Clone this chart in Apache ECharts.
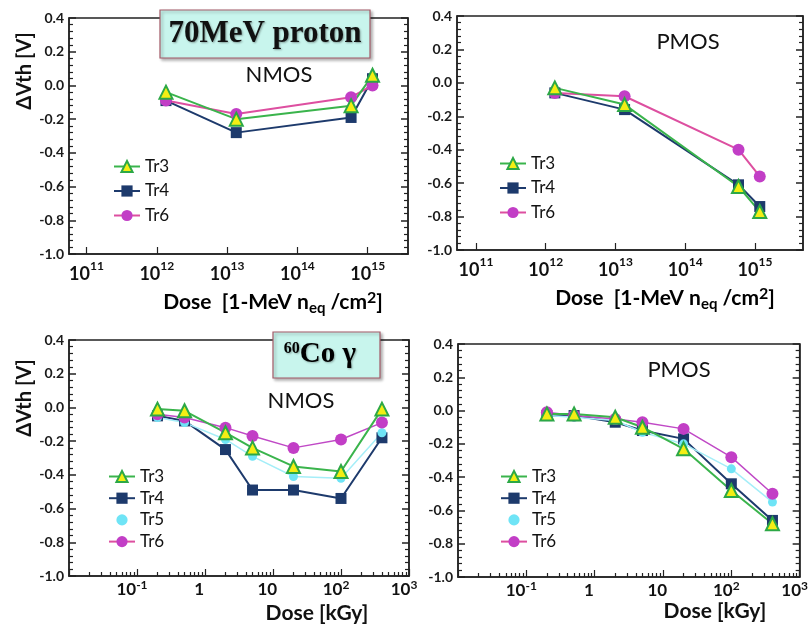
<!DOCTYPE html>
<html>
<head>
<meta charset="utf-8">
<script src="https://cdn.jsdelivr.net/npm/echarts@6/dist/echarts.min.js"></script>
<style>
  html, body { margin: 0; padding: 0; background: #ffffff; }
  #chart { width: 811px; height: 628px; }
</style>
</head>
<body>
<div id="chart"></div>
<script>
// Irradiation steps
const protonFluence = [1.35e12, 1.35e13, 5.8e14, 1.17e15];   // 1-MeV neq/cm2
const gammaDose = [0.2, 0.5, 2, 5, 20, 100, 400];            // kGy

// Threshold voltage shift [V], 70 MeV proton, NMOS
const nmosProtonTr3 = [-0.04, -0.20, -0.12, 0.06];
const nmosProtonTr4 = [-0.09, -0.28, -0.19, 0.04];
const nmosProtonTr6 = [-0.09, -0.17, -0.07, 0.00];

// Threshold voltage shift [V], 70 MeV proton, PMOS
const pmosProtonTr3 = [-0.03, -0.13, -0.62, -0.77];
const pmosProtonTr4 = [-0.06, -0.16, -0.61, -0.74];
const pmosProtonTr6 = [-0.06, -0.08, -0.40, -0.56];

// Threshold voltage shift [V], 60Co gamma, NMOS
const nmosGammaTr3 = [-0.01, -0.02, -0.15, -0.24, -0.35, -0.38, -0.01];
const nmosGammaTr4 = [-0.05, -0.08, -0.25, -0.49, -0.49, -0.54, -0.18];
const nmosGammaTr5 = [-0.06, -0.09, -0.19, -0.29, -0.41, -0.42, -0.15];
const nmosGammaTr6 = [-0.04, -0.06, -0.12, -0.17, -0.24, -0.19, -0.09];

// Threshold voltage shift [V], 60Co gamma, PMOS
const pmosGammaTr3 = [-0.02, -0.02, -0.04, -0.10, -0.23, -0.48, -0.68];
const pmosGammaTr4 = [-0.03, -0.03, -0.07, -0.12, -0.17, -0.44, -0.66];
const pmosGammaTr5 = [-0.03, -0.04, -0.06, -0.13, -0.20, -0.35, -0.55];
const pmosGammaTr6 = [-0.01, -0.03, -0.05, -0.07, -0.11, -0.28, -0.50];

// Vertical scale shared by all panels
const vthMin = -1.0;
const vthMax = 0.4;
const vthStep = 0.2;

const INK = '#222222';
const SANS = 'Lato';

const grids = [
  { left: 69,  top: 18,  width: 339, height: 236 },
  { left: 457, top: 16,  width: 346, height: 234 },
  { left: 69,  top: 340, width: 340, height: 236 },
  { left: 458, top: 344, width: 344, height: 233 }
].map(g => Object.assign({ show: true, borderColor: INK, borderWidth: 1.5 }, g));

function vthAxis(gi, side) {
  return {
    type: 'value', gridIndex: gi, position: side,
    min: vthMin, max: vthMax, interval: vthStep,
    axisLine: { show: true, onZero: false, lineStyle: { color: INK, width: 1.5 } },
    axisTick: { show: true, inside: true, length: 7, lineStyle: { color: INK, width: 1.5 } },
    minorTick: { show: true, splitNumber: 5, length: 4, lineStyle: { color: INK, width: 1.2 } },
    splitLine: { show: false },
    axisLabel: {
      show: side === 'left', margin: 5, fontFamily: SANS, fontWeight: 'bold',
      fontSize: 14, color: '#1a1a1a', formatter: v => v.toFixed(1)
    }
  };
}

function powerLabelRich(fs, ss, raise) {
  return {
    b: { fontFamily: SANS, fontWeight: 'bold', fontSize: fs, color: '#111' },
    s: { fontFamily: SANS, fontWeight: 'bold', fontSize: ss, color: '#111', padding: [0, 0, raise, 0] }
  };
}

function fluenceAxis(gi, lo, hi) {
  return {
    type: 'log', logBase: 10, gridIndex: gi,
    min: Math.pow(10, lo), max: Math.pow(10, hi),
    axisLine: { show: true, onZero: false, lineStyle: { color: INK, width: 1.5 } },
    axisTick: { show: true, inside: true, length: 7, lineStyle: { color: INK, width: 1.2 } },
    minorTick: { show: false },
    splitLine: { show: false },
    axisLabel: {
      showMinLabel: false, showMaxLabel: false, margin: 6,
      formatter: v => '{b|10}{s|' + Math.round(Math.log10(v)) + '}',
      rich: powerLabelRich(18, 12, 16)
    }
  };
}

function doseAxis(gi) {
  return {
    type: 'log', logBase: 10, gridIndex: gi, min: 0.01, max: 1000,
    axisLine: { show: true, onZero: false, lineStyle: { color: INK, width: 1.5 } },
    axisTick: { show: true, inside: true, length: 7, lineStyle: { color: INK, width: 1.2 } },
    minorTick: { show: true, splitNumber: 9, length: 4, lineStyle: { color: INK, width: 1.2 } },
    splitLine: { show: false },
    axisLabel: {
      showMinLabel: false, showMaxLabel: true, margin: 3, padding: [0, 10, 0, 0],
      formatter: v => {
        const e = Math.round(Math.log10(v));
        if (e === 0) return '{b|1}{s|\u2009}';
        if (e === 1) return '{b|10}{s|\u2009}';
        return '{b|10}{s|' + e + '}';
      },
      rich: powerLabelRich(17, 12, 10)
    }
  };
}

const xAxes = [
  fluenceAxis(0, 10.751, 15.573),
  fluenceAxis(1, 10.728, 15.688),
  doseAxis(2),
  doseAxis(3)
];
const yAxes = [];
for (let gi = 0; gi < 4; gi++) {
  yAxes.push(vthAxis(gi, 'left'));
  yAxes.push(vthAxis(gi, 'right'));
}

const traceStyle = {
  Tr3: {
    symbol: 'triangle', symbolSize: 13,
    itemStyle: { color: '#f3ee14', borderColor: '#2ca846', borderWidth: 2 },
    lineStyle: { color: '#3ab44c', width: 2 }
  },
  Tr4: {
    symbol: 'rect', symbolSize: 11,
    itemStyle: { color: '#1d3a6c' },
    lineStyle: { color: '#1d3a6c', width: 2 }
  },
  Tr5: {
    symbol: 'circle', symbolSize: 9,
    itemStyle: { color: '#6fe4f6' },
    lineStyle: { color: '#a5eef8', width: 1.5 }
  },
  Tr6: {
    symbol: 'circle', symbolSize: 12,
    itemStyle: { color: '#c23ec6' },
    lineStyle: { color: '#dd4fa0', width: 2 }
  }
};

function trace(name, gi, xs, ys, lineOverride) {
  const st = traceStyle[name];
  return {
    type: 'line', name: name, xAxisIndex: gi, yAxisIndex: gi * 2,
    data: xs.map((x, i) => [x, ys[i]]),
    symbol: st.symbol, symbolSize: st.symbolSize,
    itemStyle: st.itemStyle,
    lineStyle: Object.assign({}, st.lineStyle, lineOverride || {}),
    showSymbol: true, animation: false, silent: true
  };
}

const gammaTr6Line = { color: '#c049c6', width: 1.5 };

const series = [
  trace('Tr4', 0, protonFluence, nmosProtonTr4),
  trace('Tr6', 0, protonFluence, nmosProtonTr6),
  trace('Tr3', 0, protonFluence, nmosProtonTr3),

  trace('Tr4', 1, protonFluence, pmosProtonTr4),
  trace('Tr6', 1, protonFluence, pmosProtonTr6),
  trace('Tr3', 1, protonFluence, pmosProtonTr3),

  trace('Tr4', 2, gammaDose, nmosGammaTr4),
  trace('Tr5', 2, gammaDose, nmosGammaTr5),
  trace('Tr6', 2, gammaDose, nmosGammaTr6, gammaTr6Line),
  trace('Tr3', 2, gammaDose, nmosGammaTr3),

  trace('Tr4', 3, gammaDose, pmosGammaTr4),
  trace('Tr5', 3, gammaDose, pmosGammaTr5),
  trace('Tr6', 3, gammaDose, pmosGammaTr6, gammaTr6Line),
  trace('Tr3', 3, gammaDose, pmosGammaTr3)
];

function legendBox(left, top, names, gap) {
  return {
    orient: 'vertical', left: left, top: top, itemGap: gap,
    itemWidth: 26, itemHeight: 14, selectedMode: false,
    textStyle: { fontFamily: SANS, fontSize: 17, color: '#111' },
    data: names.map(n => n === 'Tr5' ? { name: n, lineStyle: { width: 0, opacity: 0 } } : n)
  };
}

const legends = [
  legendBox(108, 153, ['Tr3', 'Tr4', 'Tr6'], 7.5),
  legendBox(494, 150, ['Tr3', 'Tr4', 'Tr6'], 7.5),
  legendBox(103, 463, ['Tr3', 'Tr4', 'Tr5', 'Tr6'], 4.7),
  legendBox(495, 463, ['Tr3', 'Tr4', 'Tr5', 'Tr6'], 4.7)
];

function plainText(x, y, text, size, weight, extra) {
  return Object.assign({
    type: 'text', x: x, y: y, z: 50,
    style: {
      text: text, fill: '#111', align: 'center', verticalAlign: 'middle',
      fontFamily: SANS, fontSize: size, fontWeight: weight
    }
  }, extra || {});
}

const doseTitleRich = {
  a: { fontFamily: SANS, fontWeight: 'bold', fontSize: 21, color: '#111' },
  sub: { fontFamily: SANS, fontWeight: 'bold', fontSize: 15, color: '#111', padding: [12, 0, 0, 0] },
  sup: { fontFamily: SANS, fontWeight: 'bold', fontSize: 16, color: '#111', padding: [0, 0, 8, 0] }
};
function fluenceTitle(x, y) {
  return {
    type: 'text', x: x, y: y, z: 50,
    style: {
      text: '{a|Dose  [1-MeV n}{sub|eq}{a| /cm}{sup|2}{a|]}',
      rich: doseTitleRich, align: 'center', verticalAlign: 'middle'
    }
  };
}

function tagBox(x, y, w, h) {
  return {
    type: 'rect', z: 60,
    shape: { x: x, y: y, width: w, height: h },
    style: {
      fill: '#c8f5ed', stroke: '#a45a68', lineWidth: 1.2,
      shadowBlur: 3, shadowOffsetX: 2, shadowOffsetY: 2, shadowColor: 'rgba(0,0,0,0.3)'
    }
  };
}

const graphics = [
  // radiation source tags
  tagBox(160, 10, 210, 48),
  {
    type: 'text', x: 265, y: 34, z: 61,
    style: {
      text: '70MeV proton', fill: '#111', align: 'center', verticalAlign: 'middle',
      fontFamily: '"Liberation Serif", "DejaVu Serif", serif', fontWeight: 'bold', fontSize: 31,
      textShadowColor: 'rgba(0,0,0,0.35)', textShadowBlur: 2, textShadowOffsetX: 1, textShadowOffsetY: 1
    }
  },
  tagBox(273, 332, 107, 46),
  {
    type: 'text', x: 320, y: 355, z: 61,
    style: {
      text: '{p|60}{c|Co γ}', align: 'center', verticalAlign: 'middle',
      rich: {
        p: { fontFamily: '"Liberation Serif", serif', fontWeight: 'bold', fontSize: 16, color: '#111', padding: [0, 0, 12, 0] },
        c: { fontFamily: '"Liberation Serif", serif', fontWeight: 'bold', fontSize: 29, color: '#111' }
      },
      textShadowColor: 'rgba(0,0,0,0.3)', textShadowBlur: 2, textShadowOffsetX: 1, textShadowOffsetY: 1
    }
  },
  // device type labels
  plainText(279, 75, 'NMOS', 22, 'normal'),
  plainText(688, 42, 'PMOS', 22, 'normal'),
  plainText(301, 401, 'NMOS', 22, 'normal'),
  plainText(679, 370, 'PMOS', 22, 'normal'),
  // axis titles
  plainText(25, 71, 'ΔVth [V]', 20, 'bold', { rotation: Math.PI / 2 }),
  plainText(25, 398, 'ΔVth [V]', 20, 'bold', { rotation: Math.PI / 2 }),
  fluenceTitle(273, 302),
  fluenceTitle(665, 298),
  plainText(317, 613, 'Dose [kGy]', 21, 'bold'),
  plainText(715, 611, 'Dose [kGy]', 21, 'bold')
];

const chart = echarts.init(document.getElementById('chart'), null, { renderer: 'canvas' });
chart.setOption({
  backgroundColor: '#ffffff',
  animation: false,
  grid: grids,
  xAxis: xAxes,
  yAxis: yAxes,
  legend: legends,
  series: series,
  graphic: graphics
});
</script>
</body>
</html>
